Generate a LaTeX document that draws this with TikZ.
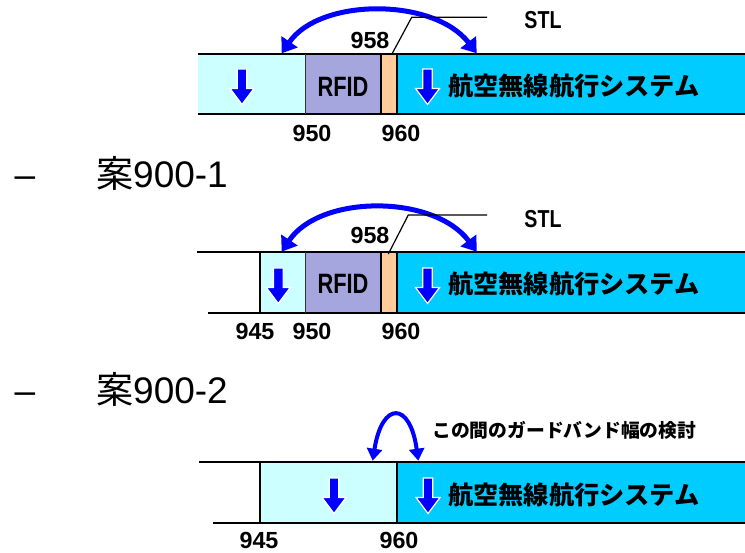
\documentclass[tikz,border=0pt]{standalone}
\usepackage{fontspec}
\usepackage{graphicx}
\setmainfont{Liberation Sans}
\newfontfamily\jp{Noto Sans CJK JP}
\usetikzlibrary{arrows.meta}
\definecolor{lightc}{RGB}{204,255,255}
\definecolor{rfidc}{RGB}{166,166,222}
\definecolor{orangec}{RGB}{255,204,153}
\definecolor{cyanc}{RGB}{0,204,255}
\definecolor{bluec}{RGB}{0,0,255}
\tikzset{
  edge/.style={line width=1.8pt, black},
  thinedge/.style={line width=1.2pt, black!80},
  leader/.style={line width=1.2pt, black},
  curvearrow/.style={line width=5pt, bluec, {Triangle[length=14pt,width=19pt]}-{Triangle[length=14pt,width=19pt]}},
  smallarrow/.style={line width=4pt, bluec, {Triangle[length=12pt,width=15pt]}-{Triangle[length=12pt,width=15pt]}},
  num/.style={font=\fontsize{23.3}{23.3}\bfseries\selectfont, inner sep=0},
  narrowtxt/.style={font=\fontsize{28}{28}\bfseries\selectfont, inner sep=0},
  jptxt/.style={font=\jp\bfseries\fontsize{25.2}{25.2}\selectfont, inner sep=0, anchor=west},
  jpsmall/.style={font=\jp\bfseries\fontsize{18.8}{18.8}\selectfont, inner sep=0, anchor=west},
  heading/.style={font=\fontsize{37}{37}\selectfont, inner sep=0, anchor=base west},
  darrow/.pic={\filldraw[fill=bluec, draw=white, line width=1.2pt]
     (-4.8,0) -- (4.8,0) -- (4.8,19.5) -- (12,19.5) -- (0,35.5) -- (-12,19.5) -- (-4.8,19.5) -- cycle;}
}
\begin{document}
\begin{tikzpicture}[x=1pt,y=-1pt]
\useasboundingbox (0,0) rectangle (745,553);
% ---------- Section 1 ----------
\fill[lightc] (198,54) rectangle (305.7,114);
\fill[rfidc] (305.7,54) rectangle (381,114);
\fill[orangec] (381,54) rectangle (396.7,114);
\fill[cyanc] (396.7,54) rectangle (745,114);
\draw[edge] (198,54) -- (745,54);
\draw[edge] (198,114) -- (745,114);
\draw[thinedge] (305.7,54) -- (305.7,114);
\draw[edge] (381,54) -- (381,114);
\draw[edge] (396.7,54) -- (396.7,114);
\pic at (242,69) {darrow};
\pic at (427.5,69) {darrow};
\node[narrowtxt] (rfid1) at (343,86.7) {\scalebox{0.78}[1]{RFID}};
\node[jptxt] (sys1) at (448,86) {航空無線航行システム};
\node[num] (n950a) at (312,133.3) {950};
\node[num] (n960a) at (401,133.3) {960};
\node[num] (n958a) at (370,40.5) {958};
\node[narrowtxt, font=\fontsize{24.5}{24.5}\bfseries\selectfont] (stl1) at (543,20.5) {\scalebox{0.8}[1]{STL}};
\coordinate (la1) at (281.7,53.3);
\coordinate (ra1) at (476.7,53.3);
\draw[curvearrow] (la1) .. controls (320,-2.5) and (434,-2.5) .. (ra1);
\coordinate (s1a) at (391.7,54.5);
\coordinate (s1b) at (411.7,17.3);
\coordinate (s1c) at (487,17.3);
\draw[leader] (s1a) -- (s1b) -- (s1c);
% ---------- heading 1 ----------
\node[heading] (dash1) at (14.5,187.3) {–};
\node[heading] (h1) at (96,187.3) {{\jp 案}900-1};
% ---------- Section 2 ----------
\fill[lightc] (260,252.3) rectangle (305.7,313.3);
\fill[rfidc] (305.7,252.3) rectangle (381,313.3);
\fill[orangec] (381,252.3) rectangle (396.7,313.3);
\fill[cyanc] (396.7,252.3) rectangle (745,313.3);
\draw[edge] (197.3,252.3) -- (745,252.3);
\draw[edge] (208.3,313.3) -- (745,313.3);
\draw[edge] (260,252.3) -- (260,313.3);
\draw[thinedge] (305.7,252.3) -- (305.7,313.3);
\draw[edge] (381,252.3) -- (381,313.3);
\draw[edge] (396.7,252.3) -- (396.7,313.3);
\pic at (278.3,268) {darrow};
\pic at (427.5,268) {darrow};
\node[narrowtxt] (rfid2) at (343,284.2) {\scalebox{0.78}[1]{RFID}};
\node[jptxt] (sys2) at (448,284.3) {航空無線航行システム};
\node[num] (n945b) at (255,331.7) {945};
\node[num] (n950b) at (312,331.7) {950};
\node[num] (n960b) at (401,331.7) {960};
\node[num] (n958b) at (370,235) {958};
\node[narrowtxt, font=\fontsize{24.5}{24.5}\bfseries\selectfont] (stl2) at (543,219.5) {\scalebox{0.8}[1]{STL}};
\coordinate (la2) at (281.7,251.7);
\coordinate (ra2) at (476.7,251.7);
\draw[curvearrow] (la2) .. controls (320,194.2) and (434,194.2) .. (ra2);
\coordinate (s2a) at (388.3,254);
\coordinate (s2b) at (408.3,215);
\coordinate (s2c) at (487,215);
\draw[leader] (s2a) -- (s2b) -- (s2c);
% ---------- heading 2 ----------
\node[heading] (dash2) at (14.5,403.3) {–};
\node[heading] (h2) at (96,403.3) {{\jp 案}900-2};
% ---------- Section 3 ----------
\fill[lightc] (260,462.3) rectangle (396.7,523.3);
\fill[cyanc] (396.7,462.3) rectangle (745,523.3);
\draw[edge] (199,462.3) -- (745,462.3);
\draw[edge] (212.7,523.3) -- (745,523.3);
\draw[edge] (260,462.3) -- (260,523.3);
\draw[edge] (396.7,462.3) -- (396.7,523.3);
\pic at (334,478) {darrow};
\pic at (428,478) {darrow};
\node[jptxt] (sys3) at (448,494.5) {航空無線航行システム};
\node[num] (n945c) at (259,540.5) {945};
\node[num] (n960c) at (399,540.5) {960};
\coordinate (la3) at (372.7,460.7);
\coordinate (ra3) at (418.3,460.7);
\draw[smallarrow] (la3) .. controls (382,401) and (410,401) .. (ra3);
\node[jpsmall] (gb) at (432,430) {この間のガードバンド幅の検討};
\end{tikzpicture}
\end{document}
